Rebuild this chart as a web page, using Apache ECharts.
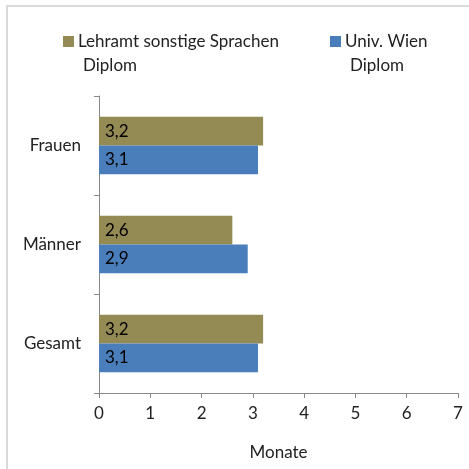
<!DOCTYPE html>
<html>
<head>
<meta charset="UTF-8">
<title>Monate</title>
<script type="text/javascript" src="https://cdn.jsdelivr.net/npm/echarts@6/dist/echarts.min.js"></script>
<style>
  html, body { margin: 0; padding: 0; background: #fff; }
</style>
</head>
<body>
    <div id="main" style="width: 469px; height: 469px;"></div>
    <script type="text/javascript">
        // Daten
        var categories = ['Gesamt', 'Männer', 'Frauen'];
        var lehramtSprachen = [3.2, 2.6, 3.2];
        var univWien = [3.1, 2.9, 3.1];
        var xTicks = [0, 1, 2, 3, 4, 5, 6, 7];

        var nameLehramt = 'Lehramt sonstige Sprachen Diplom';
        var nameWien = 'Univ. Wien Diplom';

        var font = 'Lato';
        var fs = 17;

        // erste Zeile im Legendeneintrag, "Diplom" kommt als zweite Zeile darunter
        function legendText(name) {
            return name.replace(' Diplom', '');
        }

        function label() {
            return {
                show: true,
                position: 'insideLeft',
                distance: 6,
                color: '#000',
                fontFamily: font,
                fontSize: fs,
                formatter: function (p) { return String(p.value).replace('.', ','); }
            };
        }

        var myChart = echarts.init(document.getElementById('main'));

        var option = {
            backgroundColor: '#fff',
            animation: false,
            graphic: [{
                type: 'rect',
                shape: { x: 7, y: 6, width: 480, height: 480 },
                style: { fill: 'none', stroke: '#d9d9d9', lineWidth: 2 },
                silent: true
            }, {
                type: 'text',
                left: 83,
                top: 57,
                style: { text: 'Diplom', fontFamily: font, fontSize: fs, fill: '#222' },
                silent: true
            }, {
                type: 'text',
                left: 350,
                top: 57,
                style: { text: 'Diplom', fontFamily: font, fontSize: fs, fill: '#222' },
                silent: true
            }],
            legend: [{
                data: [nameLehramt],
                left: 63,
                top: 33,
                padding: 0,
                itemWidth: 11,
                itemHeight: 11,
                icon: 'rect',
                itemGap: 4,
                formatter: legendText,
                textStyle: { fontFamily: font, fontSize: fs, color: '#222', padding: [0, 0, 0, -1] }
            }, {
                data: [nameWien],
                left: 330,
                top: 33,
                padding: 0,
                itemWidth: 11,
                itemHeight: 11,
                icon: 'rect',
                formatter: legendText,
                textStyle: { fontFamily: font, fontSize: fs, color: '#222', padding: [0, 0, 0, -1] }
            }],
            grid: {
                left: 99,
                right: 11,
                top: 96,
                bottom: 76,
                containLabel: false
            },
            xAxis: {
                type: 'value',
                min: 0,
                max: 7,
                interval: 1,
                name: 'Monate',
                nameLocation: 'middle',
                nameGap: 51,
                nameTextStyle: { fontFamily: font, fontSize: fs, color: '#222' },
                axisLine: { show: true, lineStyle: { color: '#888' } },
                axisTick: { show: true, length: 5, lineStyle: { color: '#888' } },
                axisLabel: {
                    fontFamily: font, fontSize: fs, color: '#222', margin: 12,
                    formatter: function (v) { return xTicks.indexOf(v) >= 0 ? String(v) : ''; }
                },
                splitLine: { show: false }
            },
            yAxis: {
                type: 'category',
                data: categories,
                axisLine: { show: true, lineStyle: { color: '#888' } },
                axisTick: { show: true, length: 5, lineStyle: { color: '#888' } },
                axisLabel: { fontFamily: font, fontSize: fs, color: '#222', margin: 18 }
            },
            series: [{
                name: nameLehramt,
                type: 'bar',
                data: lehramtSprachen,
                itemStyle: { color: '#948A54' },
                barGap: '0%',
                barCategoryGap: '42%',
                label: label()
            }, {
                name: nameWien,
                type: 'bar',
                data: univWien,
                itemStyle: { color: '#4A7EBB' },
                barGap: '0%',
                barCategoryGap: '42%',
                label: label()
            }]
        };

        myChart.setOption(option);
    </script>
</body>
</html>
